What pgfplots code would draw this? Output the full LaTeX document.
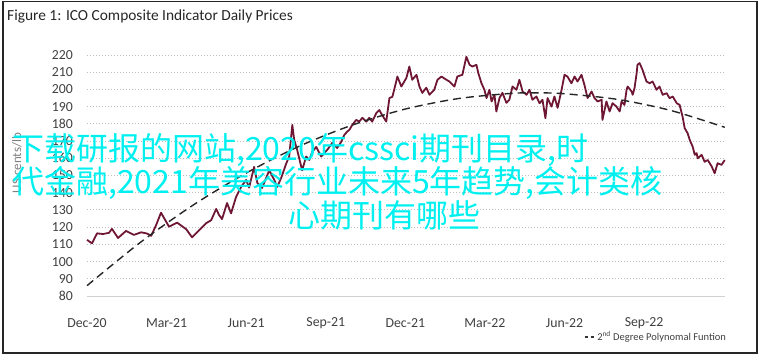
\documentclass[border=0pt]{standalone}
\usepackage{pgfplots}
\pgfplotsset{compat=1.18}
\usepackage{fontspec}
\setmainfont{Carlito}
\newfontfamily\cjk{Noto Sans CJK SC}
\definecolor{maroon}{RGB}{110,22,50}
\definecolor{tickgray}{RGB}{64,64,64}
\definecolor{gridgray}{RGB}{190,190,190}
\definecolor{cyanov}{RGB}{0,240,240}
\begin{document}
\begin{tikzpicture}[x=1pt,y=1pt]
\useasboundingbox (0,0) rectangle (762,-356);
\draw[line width=1.6pt, black!85] (3,-1.5) rectangle (757,-353);
\node[anchor=base west, inner sep=0pt, font=\fontsize{15.4}{18}\selectfont, text=black!85] at (7,-20) {Figure 1: ICO Composite Indicator Daily Prices};
\node[rotate=90, inner sep=0pt, font=\fontsize{13}{15}\selectfont, text=gray] at (17,-163) {US cents/lb};
\begin{axis}[
  at={(87pt,-296pt)}, anchor=south west,
  scale only axis, width=638pt, height=241pt,
  xmin=0, xmax=24.05, ymin=80, ymax=220,
  clip=false,
  axis line style={draw=none},
  major tick length=0pt,
  xtick={0,3,6,9,12,15,18,21},
  xticklabels={Dec-20,Mar-21,Jun-21,Sep-21,Dec-21,Mar-22,Jun-22,Sep-22},
  ytick={90,100,...,220},
  extra y ticks={80},
  extra y tick style={grid style={solid, line width=1pt, gray!35}},
  ymajorgrids,
  grid style={line width=1pt, gridgray, dash pattern=on 1pt off 2pt},
  tick label style={font=\fontsize{13.8}{16}\selectfont, text=tickgray, inner sep=0pt},
  xticklabel style={anchor=center, yshift=-27pt},
  yticklabel style={anchor=east, xshift=-14pt},
  /pgf/number format/assume math mode=true,
  legend style={at={(1.005,-0.17)}, anchor=east, draw=none, fill=none, inner sep=0pt,
    font=\fontsize{10.5}{12}\selectfont, text=tickgray, legend cell align=left},
  legend image code/.code={\draw[black!80, line width=1.3pt, dash pattern=on 3pt off 3pt] (0pt,0pt) -- (10pt,0pt);},
]
\addplot[maroon, line width=1.8pt, line join=round] table {
t v
0.00 112.6
0.19 110.6
0.38 116.4
0.60 116.0
0.83 116.7
0.94 119.0
1.17 113.7
1.47 117.8
1.77 115.5
2.04 117.0
2.26 116.3
2.42 115.0
2.60 121.0
2.79 128.4
3.09 120.3
3.40 122.6
3.74 118.8
3.96 114.1
4.30 119.3
4.49 122.3
4.68 124.0
4.87 130.6
4.98 127.0
5.09 124.7
5.28 134.0
5.43 128.0
5.62 137.6
5.81 143.4
6.00 147.4
6.11 143.0
6.30 155.0
6.42 145.7
6.60 142.8
6.87 153.0
7.06 147.4
7.17 143.4
7.32 148.6
7.51 157.0
7.62 161.0
7.74 179.4
7.81 170.7
7.92 165.0
8.11 153.0
8.26 161.0
8.38 159.0
8.49 163.7
8.64 166.6
8.83 161.0
8.94 163.0
9.06 165.0
9.25 169.0
9.43 166.0
9.58 169.5
9.70 173.6
9.81 175.5
9.89 176.5
10.00 179.4
10.15 182.3
10.26 181.3
10.38 183.5
10.53 181.3
10.64 183.5
10.75 181.3
10.91 186.4
11.02 188.0
11.13 185.0
11.28 181.3
11.40 195.0
11.51 195.7
11.58 199.8
11.70 207.5
11.85 201.7
12.04 206.7
12.15 213.3
12.26 205.6
12.42 208.5
12.53 201.7
12.64 198.0
12.79 201.0
12.91 196.9
13.09 199.8
13.21 205.6
13.36 207.5
13.55 205.6
13.66 204.6
13.85 201.7
13.96 207.5
14.15 208.5
14.30 219.0
14.42 214.3
14.53 213.3
14.68 214.3
14.75 209.5
14.87 203.6
14.98 199.8
15.06 195.0
15.17 199.8
15.25 193.0
15.36 196.9
15.43 187.2
15.55 195.0
15.66 198.0
15.81 192.2
15.92 194.0
16.04 201.7
16.19 199.8
16.30 205.6
16.42 198.8
16.57 196.9
16.68 199.8
16.79 194.0
16.94 195.9
17.06 192.0
17.17 194.0
17.28 183.3
17.36 195.0
17.51 190.0
17.62 195.9
17.74 189.3
17.89 199.8
18.00 208.5
18.11 207.5
18.26 203.6
18.38 207.5
18.49 204.6
18.64 208.5
18.75 202.7
18.87 195.0
19.02 198.8
19.13 195.0
19.25 193.0
19.40 194.0
19.43 182.3
19.58 193.0
19.70 187.2
19.81 192.0
19.96 190.0
20.08 187.2
20.15 193.0
20.26 191.0
20.34 199.8
20.38 201.7
20.53 198.8
20.57 196.9
20.64 200.8
20.72 209.5
20.75 214.3
20.83 215.3
20.94 211.4
21.09 204.6
21.21 203.6
21.32 204.6
21.47 199.8
21.58 201.7
21.70 196.9
21.85 197.8
21.96 194.9
22.08 195.9
22.23 192.0
22.34 191.0
22.45 184.2
22.53 177.5
22.64 174.6
22.72 170.7
22.83 166.8
22.91 162.0
22.98 163.0
23.02 160.0
23.17 162.0
23.28 158.0
23.40 159.0
23.55 155.2
23.66 151.3
23.77 157.1
23.92 156.2
24.04 159.0
};
\addplot[black!85, line width=1.4pt, dash pattern=on 8pt off 5pt, smooth] table {
t v
0 86.0
2 111.0
4 132.8
6 151.4
8 167.0
10 179.3
12 188.6
14 194.7
16 197.7
17 198.0
18 197.5
20 194.2
22 187.8
24.04 178.0
};
\addlegendentry{2\textsuperscript{nd} Degree Polynomal Funtion}
\end{axis}
\node[anchor=west, inner sep=0pt, text=cyanov, font=\cjk\fontsize{32}{34}\selectfont] at (12,-150) {下载研报的网站,2020年cssci期刊目录,时};
\node[anchor=west, inner sep=0pt, text=cyanov, font=\cjk\fontsize{32}{34}\selectfont] at (12,-183) {代金融,2021年美容行业未来5年趋势,会计类核};
\node[anchor=west, inner sep=0pt, text=cyanov, font=\cjk\fontsize{32}{34}\selectfont] at (288,-215) {心期刊有哪些};
\end{tikzpicture}
\end{document}
